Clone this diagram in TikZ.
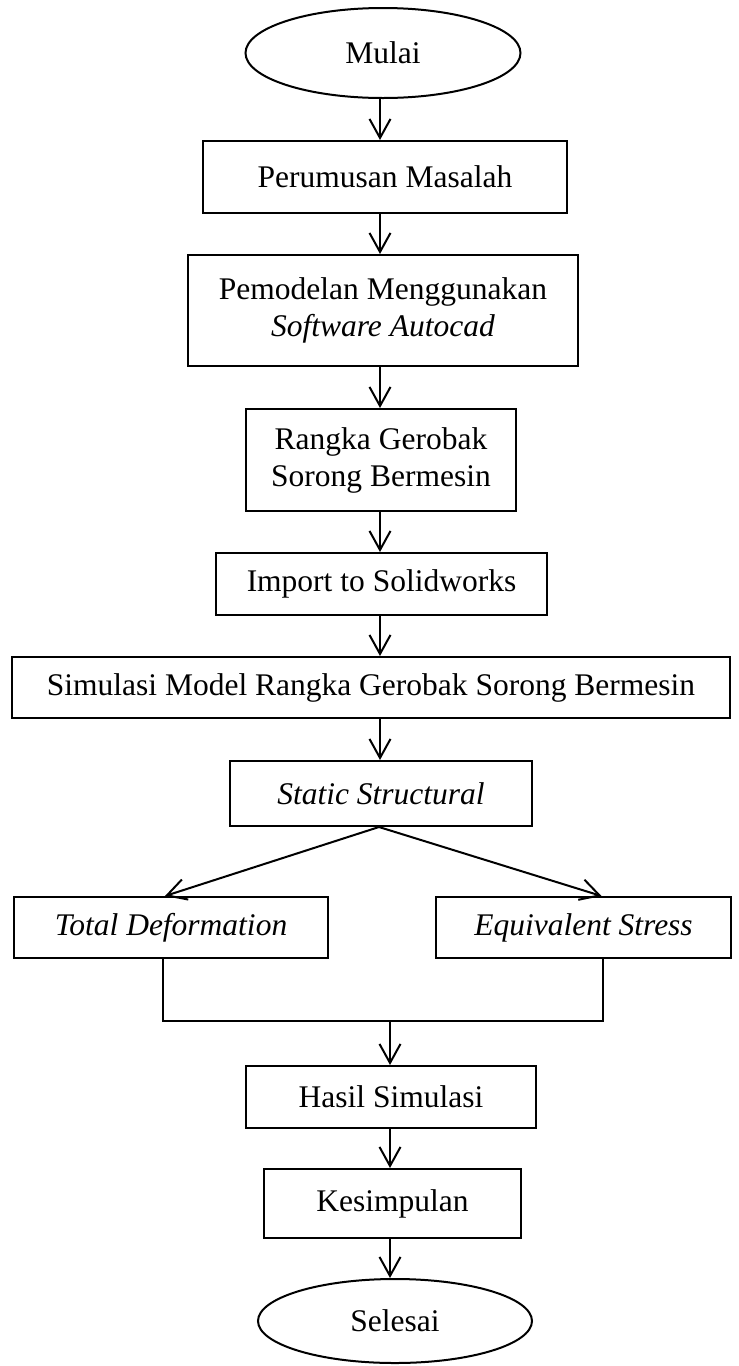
\documentclass[tikz,border=0pt]{standalone}
\usepackage{fontspec}
\setmainfont{Liberation Serif}
\usetikzlibrary{shapes.geometric, arrows.meta, positioning}

\begin{document}
\begin{tikzpicture}[
    x=1pt, y=-1pt,
    font=\fontsize{31.5}{37}\selectfont,
    line width=2pt,
    >={Straight Barb[length=19pt,width=21pt]},
    box/.style={draw, rectangle, inner sep=0pt, align=center},
    term/.style={draw, ellipse, inner sep=0pt},
    link/.style={line width=1.8pt}
]
\useasboundingbox (0,0) rectangle (739,1366);

% START
\node[term, minimum width=275pt, minimum height=90pt] (mulai) at (383,53) {Mulai};

% PREPARATION
\node[box, minimum width=364pt, minimum height=72pt] (rumusan) at (385,177) {Perumusan Masalah};
\node[box, minimum width=390pt, minimum height=111pt] (model) at (383,310.5) {Pemodelan Menggunakan\\ \textit{Software Autocad}};
\node[box, minimum width=270pt, minimum height=102pt] (rangka) at (381,460) {Rangka Gerobak\\ Sorong Bermesin};
\node[box, minimum width=331pt, minimum height=62pt] (impor) at (381.5,584) {Import to Solidworks};

% SIMULATION
\node[box, minimum width=718pt, minimum height=61pt] (simulasi) at (371,687.5) {Simulasi Model Rangka Gerobak Sorong Bermesin};
\node[box, minimum width=302pt, minimum height=65pt] (statik) at (381,793.5) {\textit{Static Structural}};
\node[box, minimum width=314pt, minimum height=61pt] (total) at (171,927.5) {\textit{Total Deformation}};
\node[box, minimum width=295pt, minimum height=61pt] (ekuivalen) at (583.5,927.5) {\textit{Equivalent Stress}};

% RESULTS
\coordinate (gabung) at (390,1021);
\node[box, minimum width=290pt, minimum height=62pt] (hasil) at (391,1097) {Hasil Simulasi};
\node[box, minimum width=257pt, minimum height=69pt] (kesimpulan) at (392.5,1203.5) {Kesimpulan};

% END
\node[term, minimum width=274pt, minimum height=84pt] (selesai) at (395,1321) {Selesai};

% ARROWS
\draw[->] ([xshift=-3pt]mulai.south) -- ([xshift=-3pt]mulai.south |- rumusan.north);
\draw[->] ([xshift=-5pt]rumusan.south) -- ([xshift=-5pt]rumusan.south |- model.north);
\draw[->] ([xshift=-3pt]model.south) -- ([xshift=-3pt]model.south |- rangka.north);
\draw[->] ([xshift=-1pt]rangka.south) -- ([xshift=-1pt]rangka.south |- impor.north);
\draw[->] ([xshift=-1.5pt]impor.south) -- ([xshift=-1.5pt]impor.south |- simulasi.north);
\draw[->] ([xshift=-1pt]statik.north |- simulasi.south) -- ([xshift=-1pt]statik.north);
\draw[->] ([xshift=-2pt]statik.south) -- ([xshift=-6pt]total.north);
\draw[->] ([xshift=-2pt]statik.south) -- ([xshift=18pt]ekuivalen.north);

\draw[link] ([xshift=-8pt]total.south) |- (gabung);
\draw[link] ([xshift=19.5pt]ekuivalen.south) |- (gabung);
\draw[->] (gabung) -- (gabung |- hasil.north);
\draw[->] ([xshift=-1pt]hasil.south) -- ([xshift=-1pt]hasil.south |- kesimpulan.north);
\draw[->] ([xshift=-2.5pt]kesimpulan.south) -- ([xshift=-2.5pt]kesimpulan.south |- selesai.north);

\end{tikzpicture}
\end{document}
